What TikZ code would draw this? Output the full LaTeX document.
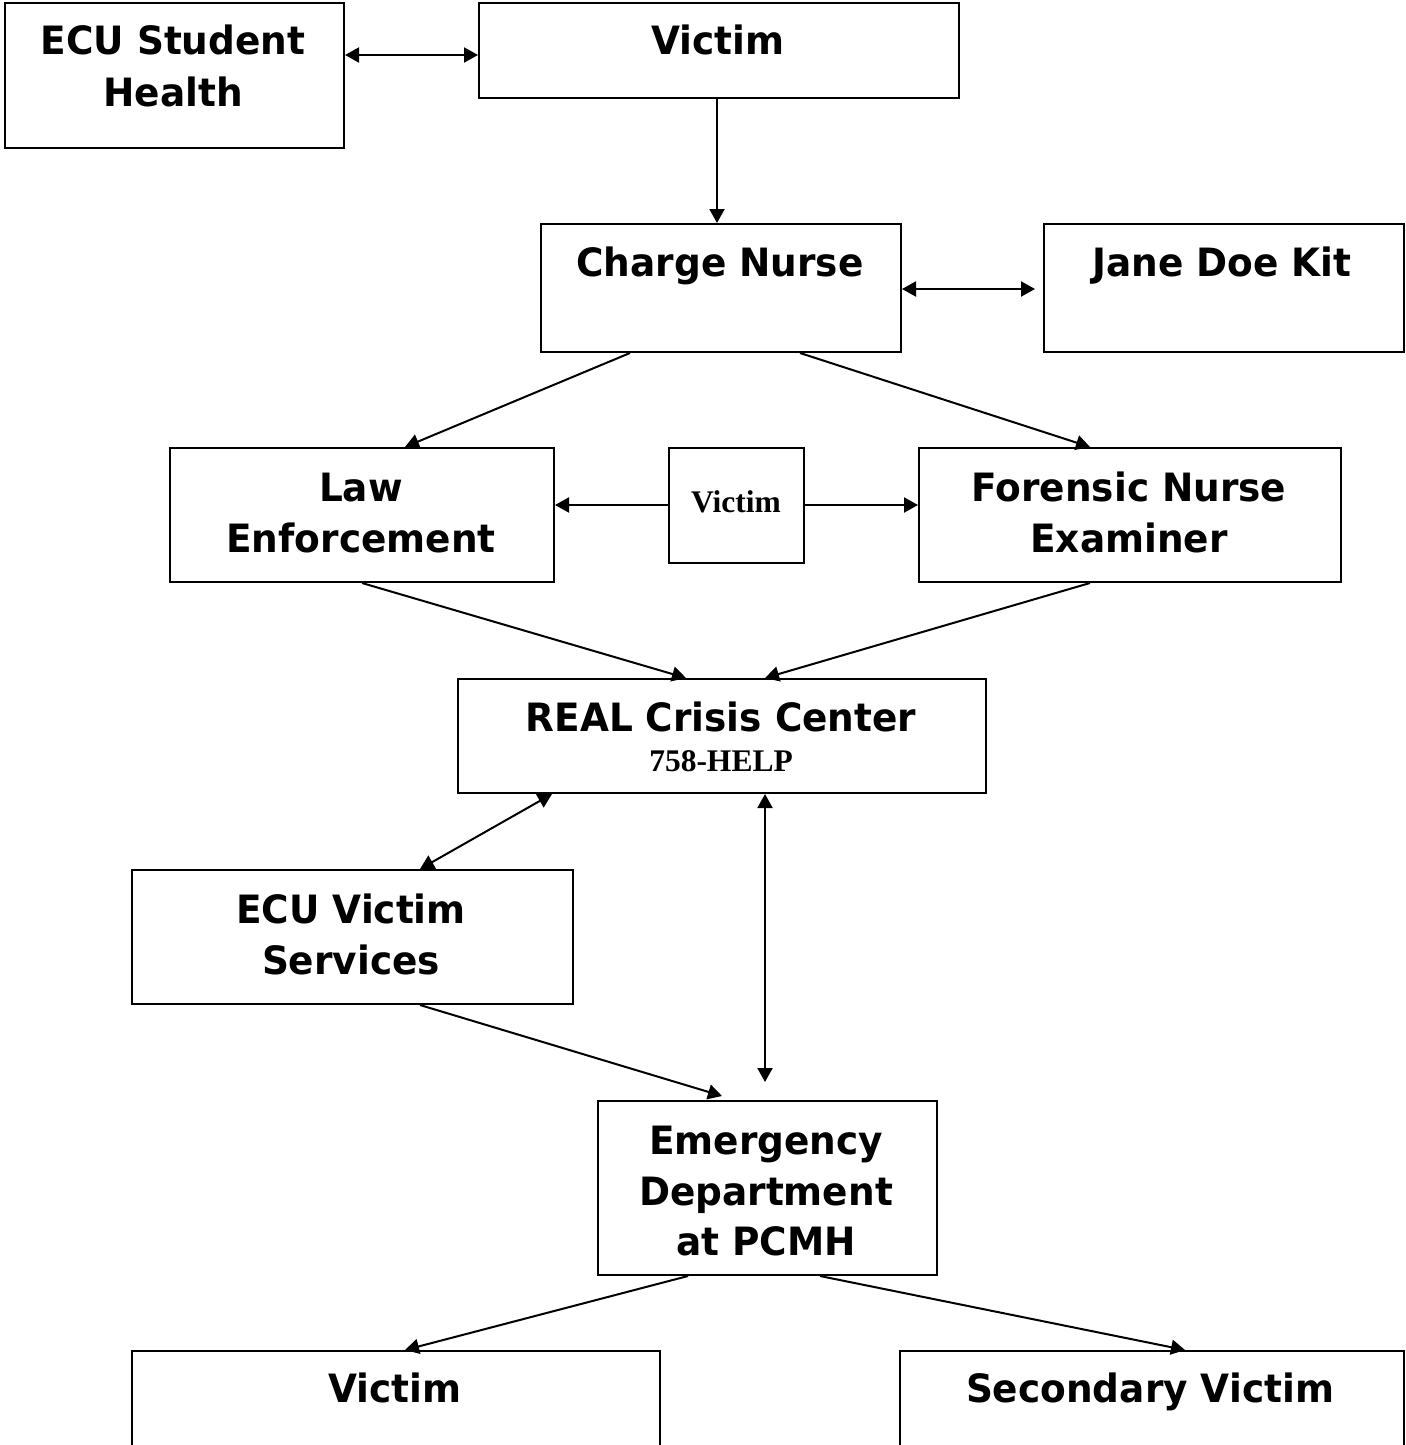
\documentclass[tikz,border=0pt]{standalone}
\usepackage{fontspec}
\setmainfont{DejaVu Sans}[FakeStretch=0.96]
\newfontfamily\seriffont{Liberation Serif}
\usetikzlibrary{arrows.meta,calc}
\begin{document}
\begin{tikzpicture}[x=1pt,y=-1pt,
  box/.style={draw=black,line width=2pt,anchor=north west,inner sep=0pt,fill=none},
  txt/.style={anchor=base,inner sep=0pt,font=\fontsize{39}{50.5}\selectfont\bfseries},
  stxt/.style={anchor=base,inner sep=0pt,font=\fontsize{31.5}{36}\selectfont\seriffont\bfseries},
  conn/.style={line width=2pt,-{Triangle[length=14pt,width=15pt]}},
  dconn/.style={line width=2pt,{Triangle[length=14pt,width=15pt]}-{Triangle[length=14pt,width=15pt]}}]
\useasboundingbox (0,0) rectangle (1405,1445);
% boxes
\node[box,minimum width=339pt,minimum height=145pt] (sh) at (4,2) {};
\node[box,minimum width=480pt,minimum height=95pt] (v1) at (478,2) {};
\node[box,minimum width=360pt,minimum height=128pt] (cn) at (540,223) {};
\node[box,minimum width=360pt,minimum height=128pt] (jd) at (1043,223) {};
\node[box,minimum width=384pt,minimum height=134pt] (le) at (169,447) {};
\node[box,minimum width=135pt,minimum height=115pt] (v2) at (668,447) {};
\node[box,minimum width=422pt,minimum height=134pt] (fn) at (918,447) {};
\node[box,minimum width=528pt,minimum height=114pt] (rc) at (457,678) {};
\node[box,minimum width=441pt,minimum height=134pt] (vs) at (131,869) {};
\node[box,minimum width=339pt,minimum height=174pt] (ed) at (597,1100) {};
\node[box,minimum width=528pt,minimum height=110pt] (v3) at (131,1350) {};
\node[box,minimum width=504pt,minimum height=110pt] (sv) at (899,1350) {};
% texts
\node[txt] (sht1) at (173,55) {ECU Student};
\node[txt] (sht2) at (173,106) {Health};
\node[txt] (v1t) at (718,55) {Victim};
\node[txt] (cnt) at (720,276) {Charge Nurse};
\node[txt] (jdt) at (1222,276) {Jane Doe Kit};
\node[txt] (let1) at (361,501) {Law};
\node[txt] (let2) at (361,552) {Enforcement};
\node[stxt] (v2t) at (736,512) {Victim};
\node[txt] (fnt1) at (1129,501) {Forensic Nurse};
\node[txt] (fnt2) at (1129,552) {Examiner};
\node[txt] (rct1) at (721,731) {REAL Crisis Center};
\node[stxt] (rct2) at (721,771) {758-HELP};
\node[txt] (vst1) at (351,923) {ECU Victim};
\node[txt] (vst2) at (351,974) {Services};
\node[txt] (edt1) at (766,1154) {Emergency};
\node[txt] (edt2) at (766,1205) {Department};
\node[txt] (edt3) at (766,1255) {at PCMH};
\node[txt] (v3t) at (395,1402) {Victim};
\node[txt] (svt) at (1150,1402) {Secondary Victim};
\coordinate (edin) at (765,1082);
% connectors
\draw[dconn] (sh.east |- 0,55) -- (v1.west |- 0,55);
\draw[conn] (v1.south -| 717,0) -- (cn.north -| 717,0);
\draw[dconn] (cn.east |- 0,289) -- ([xshift=-8pt]jd.west |- 0,289);
\draw[conn] (cn.south -| 630,0) -- (le.north -| 405,0);
\draw[conn] (cn.south -| 800,0) -- (fn.north -| 1090,0);
\draw[conn] (v2.west |- 0,505) -- (le.east |- 0,505);
\draw[conn] (v2.east |- 0,505) -- (fn.west |- 0,505);
\draw[conn] (le.south -| 362,0) -- (rc.north -| 686,0);
\draw[conn] (fn.south -| 1090,0) -- (rc.north -| 765,0);
\draw[dconn] (rc.south -| 552,0) -- (vs.north -| 420,0);
\draw[dconn] (rc.south -| 765,0) -- (edin);
\draw[conn] (vs.south -| 420,0) -- ([yshift=4pt]ed.north -| 722,0);
\draw[conn] (ed.south -| 688,0) -- (v3.north -| 405,0);
\draw[conn] (ed.south -| 820,0) -- (sv.north -| 1185,0);
\end{tikzpicture}
\end{document}
